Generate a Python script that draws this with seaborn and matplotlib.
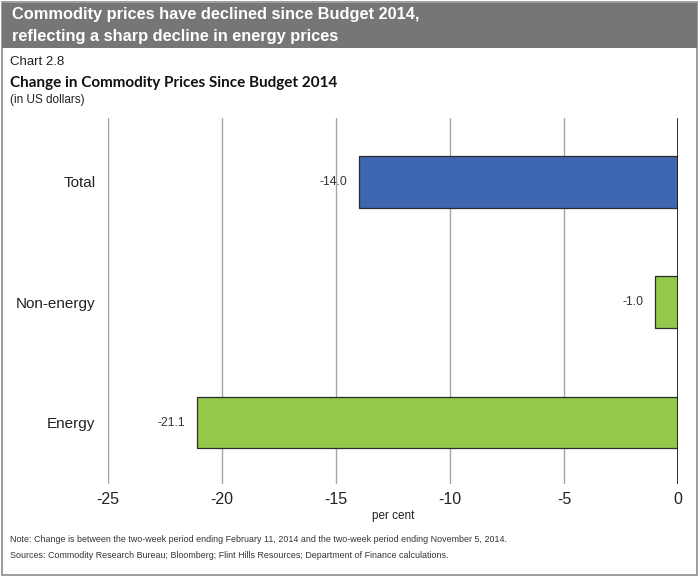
import pandas as pd
import numpy as np
import matplotlib.pyplot as plt
import seaborn as sns
from matplotlib.patches import Rectangle

# data
categories = ["Total", "Non-energy", "Energy"]
change_pct = [-14.0, -1.0, -21.1]
bar_colors = ["#3F66B0", "#93C84A", "#93C84A"]
x_ticks = [-25, -20, -15, -10, -5, 0]

df = pd.DataFrame({"category": categories, "change": change_pct})

sns.set_theme(style="white")
plt.rcParams["font.family"] = ["Liberation Sans", "DejaVu Sans"]

fig = plt.figure(figsize=(7, 5.76), dpi=100)
ax = fig.add_axes([0.1543, 0.1597, 0.8143, 0.6354])

# gridlines behind bars
for t in x_ticks[:-1]:
    ax.axvline(t, color="#A6A6A6", lw=1, zorder=0)
ax.axvline(0, color="#1A1A1A", lw=2, zorder=3)

sns.barplot(data=df, x="change", y="category", hue="category",
            palette=bar_colors, saturation=1, legend=False, orient="h",
            width=0.43, edgecolor="#2B2B2B", linewidth=0.9, ax=ax, zorder=2)

for i, v in enumerate(change_pct):
    ax.text(v - 0.5, i, f"{v:.1f}", ha="right", va="center",
            fontsize=8.8, color="#333333")

ax.set_xlim(-25, 0)
ax.set_ylim(2.51, -0.53)
ax.set_xticks(x_ticks)
ax.set_xticklabels([str(t) for t in x_ticks], fontsize=11.5, color="#222222")
ax.tick_params(axis="x", length=0, pad=6)
ax.tick_params(axis="y", length=0, pad=9, labelsize=11, labelcolor="#222222")
ax.set_xlabel("per cent", fontsize=8.5, color="#222222", labelpad=2)
ax.set_ylabel("")
for s in ax.spines.values():
    s.set_visible(False)

# outer frame and header banner
fig.patches.append(Rectangle((2 / 700, 1 / 576), 695 / 700, 573 / 576,
                             transform=fig.transFigure, fill=False,
                             edgecolor="#8C8C8C", lw=1.2))
fig.patches.append(Rectangle((2 / 700, 1 - 48 / 576), 695 / 700, 45 / 576,
                             transform=fig.transFigure, facecolor="#767676",
                             edgecolor="none"))

fig.text(12 / 700, 1 - 15 / 576, "Commodity prices have declined since Budget 2014,",
         color="white", fontsize=11.8, fontweight="bold", va="center")
fig.text(12 / 700, 1 - 36 / 576, "reflecting a sharp decline in energy prices",
         color="white", fontsize=11.8, fontweight="bold", va="center")
fig.text(10 / 700, 1 - 62 / 576, "Chart 2.8", fontsize=9.5, color="#222222", va="center")
fig.text(10 / 700, 1 - 83 / 576, "Change in Commodity Prices Since Budget 2014",
         fontsize=11, fontweight="bold", color="#111111", va="center",
         family=["Lato", "DejaVu Sans"])
fig.text(10 / 700, 1 - 100 / 576, "(in US dollars)", fontsize=8.5, color="#222222", va="center")

fig.text(10 / 700, 1 - 539 / 576,
         "Note: Change is between the two-week period ending February 11, 2014 and the two-week period ending November 5, 2014.",
         fontsize=6.4, color="#333333", va="center")
fig.text(10 / 700, 1 - 556 / 576,
         "Sources: Commodity Research Bureau; Bloomberg; Flint Hills Resources; Department of Finance calculations.",
         fontsize=6.4, color="#333333", va="center")

fig.savefig("out.png", dpi=100)
